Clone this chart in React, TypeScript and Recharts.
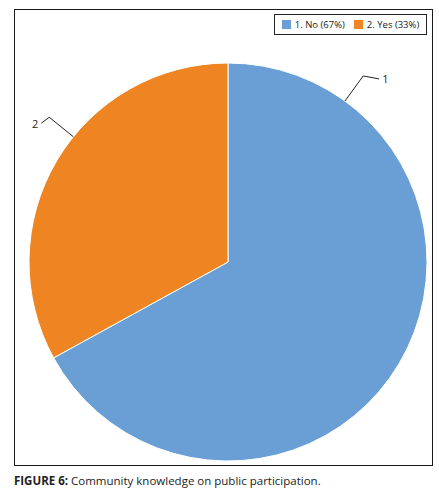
import { PieChart, Pie, Cell } from 'recharts';

const categories = ['1. No', '2. Yes'];
const sliceLabels = ['1', '2'];
const percentages = [67, 33];

const COLORS = ['#6a9fd6', '#ee8422'];
const FONT = '"Open Sans", "Noto Sans", Arial, sans-serif';

// Excel's "best fit" put the leaders away from mid-angle, so each label gets its own anchor angle
const LABEL_ANGLES = [54, 141];
const RADIAN = Math.PI / 180;

const data = categories.map((name, i) => ({
  name,
  label: sliceLabels[i],
  value: percentages[i],
}));

interface LabelProps {
  cx?: number;
  cy?: number;
  outerRadius?: number;
  index?: number;
  payload?: { label: string };
}

const renderLabel = ({ cx = 0, cy = 0, outerRadius = 0, index = 0, payload }: LabelProps) => {
  const angle = LABEL_ANGLES[index] * RADIAN;
  const cos = Math.cos(angle);
  const sin = Math.sin(angle);
  const sx = cx + outerRadius * cos;
  const sy = cy - outerRadius * sin;
  const ex = cx + (outerRadius + 31) * cos;
  const ey = cy - (outerRadius + 31) * sin;
  const dir = cos >= 0 ? 1 : -1;
  const hx = ex + dir * (dir > 0 ? 16 : 8);
  const hy = ey + (dir > 0 ? 3 : 6);
  return (
    <g key={`lbl-${index}`}>
      <polyline
        points={`${sx},${sy} ${ex},${ey} ${hx},${hy}`}
        fill="none"
        stroke="#222"
        strokeWidth={1}
      />
      <text
        x={hx + dir * 3}
        y={hy}
        textAnchor={dir > 0 ? 'start' : 'end'}
        dominantBaseline="central"
        fontFamily={FONT}
        fontSize={11}
        fill="#222"
      >
        {payload?.label}
      </text>
    </g>
  );
};

export default function App() {
  return (
    <div
      style={{
        position: 'absolute',
        left: 0,
        top: 0,
        width: 439,
        height: 493,
        background: '#fff',
        fontFamily: FONT,
      }}
    >
      <div
        style={{
          position: 'absolute',
          left: 14,
          top: 9,
          width: 417,
          height: 455,
          border: '1.5px solid #1a1a1a',
        }}
      />
      <div style={{ position: 'absolute', left: 0, top: 0 }}>
        <PieChart width={439} height={470}>
          <Pie
            data={data}
            dataKey="value"
            nameKey="name"
            cx={223}
            cy={257}
            outerRadius={199}
            startAngle={90}
            endAngle={-270}
            stroke="#fff"
            strokeWidth={1}
            label={renderLabel}
            labelLine={false}
            isAnimationActive={false}
          >
            {data.map((_, i) => (
              <Cell key={`cell-${i}`} fill={COLORS[i]} />
            ))}
          </Pie>
        </PieChart>
      </div>
      <div
        style={{
          position: 'absolute',
          left: 274,
          top: 14,
          width: 151,
          height: 19,
          border: '1px solid #222',
          display: 'flex',
          alignItems: 'center',
          justifyContent: 'center',
          gap: 9,
          fontSize: 9.5,
          color: '#222',
          background: '#fff',
        }}
      >
        {data.map((d, i) => (
          <div key={d.name} style={{ display: 'flex', alignItems: 'center', gap: 4 }}>
            <span style={{ width: 9, height: 9, background: COLORS[i], display: 'inline-block' }} />
            <span>{`${d.name} (${d.value}%)`}</span>
          </div>
        ))}
      </div>
      <div
        style={{
          position: 'absolute',
          left: 14,
          top: 473,
          fontSize: 11.5,
          color: '#222',
          whiteSpace: 'nowrap',
        }}
      >
        <span style={{ fontWeight: 700 }}>FIGURE 6:</span> Community knowledge on public participation.
      </div>
    </div>
  );
}
